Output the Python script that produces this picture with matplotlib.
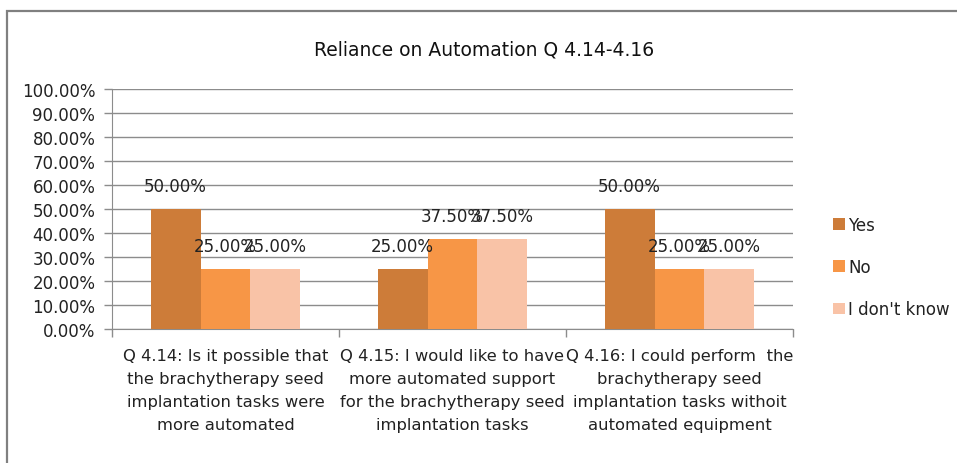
import numpy as np
import matplotlib.pyplot as plt
from matplotlib.patches import Rectangle
from matplotlib.ticker import FixedLocator, PercentFormatter

# chart data
categories = [
    "Q 4.14: Is it possible that\nthe brachytherapy seed\nimplantation tasks were\nmore automated",
    "Q 4.15: I would like to have\nmore automated support\nfor the brachytherapy seed\nimplantation tasks",
    "Q 4.16: I could perform  the\nbrachytherapy seed\nimplantation tasks withoit\nautomated equipment",
]
series_names = ["Yes", "No", "I don't know"]
yes_vals = [50.0, 25.0, 50.0]
no_vals = [25.0, 37.5, 25.0]
dont_know_vals = [25.0, 37.5, 25.0]
colors = ["#CD7C39", "#F79646", "#F9C3A7"]

fig = plt.figure(figsize=(9.57, 4.64), dpi=100)
ax = fig.add_axes([112 / 957, 1 - 330 / 464, (793 - 112) / 957, (330 - 90) / 464])

# outer chart border
fig.patches.append(Rectangle((7.5 / 957, -0.05), 1.2, 1 - 12 / 464 + 0.05,
                             transform=fig.transFigure, fill=False,
                             edgecolor="#808080", linewidth=1.6))

x = np.arange(len(categories))
w = 0.22
grid_col = "#8C8C8C"
bars = []
for i, vals in enumerate([yes_vals, no_vals, dont_know_vals]):
    b = ax.bar(x + (i - 1) * w, vals, w, color=colors[i], label=series_names[i], zorder=3)
    bars.append(b)
    for rect, v in zip(b, vals):
        ax.annotate(f"{v:.2f}%", (rect.get_x() + rect.get_width() / 2, v),
                    xytext=(0, 10), textcoords="offset points",
                    ha="center", va="bottom", fontsize=12, color="#222222", zorder=4)

ax.set_xlim(-0.5, len(categories) - 0.5)
ax.set_ylim(0, 100)
ax.set_yticks(np.arange(0, 101, 10))
ax.yaxis.set_major_formatter(PercentFormatter(decimals=2))
ax.yaxis.grid(True, color=grid_col, linewidth=1, zorder=0)
ax.tick_params(axis="y", length=6, width=1, color=grid_col, pad=6, labelsize=12, labelcolor="#222222")

# category boundaries as ticks, labels at centers
ax.xaxis.set_major_locator(FixedLocator(np.arange(-0.5, len(categories), 1)))
ax.xaxis.set_minor_locator(FixedLocator(x))
ax.set_xticklabels([], minor=False)
ax.set_xticklabels(categories, minor=True, fontsize=11.8, linespacing=1.66, color="#222222")
ax.tick_params(axis="x", which="major", length=6, width=1, color=grid_col)
ax.tick_params(axis="x", which="minor", length=0, pad=14)

for s in ["top", "right"]:
    ax.spines[s].set_visible(False)
for s in ["left", "bottom"]:
    ax.spines[s].set_color(grid_col)

fig.text(484 / 957, 1 - 50 / 464, "Reliance on Automation Q 4.14-4.16",
         ha="center", va="center", fontsize=13.5, color="#111111")

fig.legend(handles=bars, labels=series_names, loc="center left",
           bbox_to_anchor=(818 / 957, 1 - 268 / 464), frameon=False,
           fontsize=12, labelspacing=1.45, handlelength=0.7, handleheight=0.7,
           handletextpad=0.2, labelcolor="#222222")

fig.savefig("out.png", dpi=100)
